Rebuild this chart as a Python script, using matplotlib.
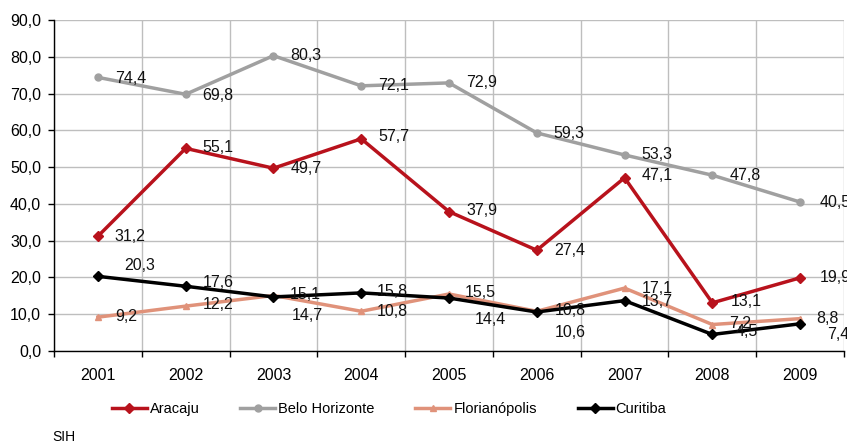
import numpy as np
import matplotlib.pyplot as plt
from matplotlib.ticker import FixedLocator

plt.rcParams['font.family'] = ['Liberation Sans', 'DejaVu Sans']

anos = ['2001', '2002', '2003', '2004', '2005', '2006', '2007', '2008', '2009']
aracaju = [31.2, 55.1, 49.7, 57.7, 37.9, 27.4, 47.1, 13.1, 19.9]
belo_horizonte = [74.4, 69.8, 80.3, 72.1, 72.9, 59.3, 53.3, 47.8, 40.5]
florianopolis = [9.2, 12.2, 15.1, 10.8, 15.5, 10.8, 17.1, 7.2, 8.8]
curitiba = [20.3, 17.6, 14.7, 15.8, 14.4, 10.6, 13.7, 4.5, 7.4]
fonte = 'SIH'

# label offsets in pixels (dx, dy) per point
off_ara = [(17, 0), (17, 1), (17, 0), (17, 2), (17, 1), (17, 0), (17, 2), (18, 1), (20, 0)]
off_bh = [(17, -1), (17, -1), (17, 0), (17, 0), (17, 0), (17, -1), (17, 0), (17, 0), (20, 0)]
off_flo = [(17, 1), (17, 2), (16, 1), (16, 0), (16, 1), (18, 1), (17, 0), (17, 1), (16, 0)]
off_cur = [(26, 11), (17, 4), (18, -19), (16, 1), (26, -21), (18, -20), (17, -1), (23, 3), (27, -11)]

x = np.arange(len(anos))

fig = plt.figure(figsize=(8.47, 4.44), dpi=100)
ax = fig.add_axes([54 / 847, 93 / 444, 790 / 847, 331 / 444])

series = [
    ('Aracaju', aracaju, '#B8121C', 'D', 8, off_ara),
    ('Belo Horizonte', belo_horizonte, '#A0A0A0', 'o', 9.5, off_bh),
    ('Florianópolis', florianopolis, '#E0927A', '^', 8, off_flo),
    ('Curitiba', curitiba, '#000000', 'D', 8, off_cur),
]

for nome, vals, cor, mk, ms, offs in series:
    ax.plot(x, vals, color=cor, lw=2.5, marker=mk, ms=ms, label=nome, zorder=3)
    for xi, v, (dx, dy) in zip(x, vals, offs):
        ax.annotate(f'{v:.1f}'.replace('.', ','), (xi, v), xytext=(dx, dy),
                    textcoords='offset pixels', ha='left', va='center',
                    fontsize=11.5, color='#111111', zorder=4, annotation_clip=False)

ax.set_xlim(-0.5, len(anos) - 0.5)
ax.set_ylim(0, 90)
ax.set_yticks(np.arange(0, 91, 10))
ax.set_yticklabels([f'{v:.1f}'.replace('.', ',') for v in np.arange(0, 91, 10)], fontsize=11.5)
ax.set_xticks(x)
ax.set_xticklabels(anos, fontsize=11.5)
ax.xaxis.set_minor_locator(FixedLocator(np.arange(-0.5, len(anos), 1)))
ax.tick_params(axis='x', which='major', length=0, pad=12)
ax.tick_params(axis='x', which='minor', length=4.3, width=1, direction='out')
ax.tick_params(axis='y', length=4.3, width=1, direction='out', pad=5)

ax.grid(axis='y', color='#BEBEBE', lw=1, zorder=0)
ax.grid(axis='x', which='minor', color='#BEBEBE', lw=1, zorder=0)
ax.set_axisbelow(True)
for s in ['top', 'right']:
    ax.spines[s].set_visible(False)
ax.spines['left'].set_linewidth(1)
ax.spines['bottom'].set_linewidth(1)

handles, labels = ax.get_legend_handles_labels()
for h in handles:
    h.set_markersize(5)
fig.legend(handles, labels, loc='center', bbox_to_anchor=(389 / 847, 1 - 409 / 444),
           ncol=4, frameon=False, fontsize=10.5, handlelength=2.4, handletextpad=0.2,
           columnspacing=2.8)

fig.text(52 / 847, 1 - 437 / 444, fonte, fontsize=10, va='center', ha='left')

fig.savefig('out.png', dpi=100)
